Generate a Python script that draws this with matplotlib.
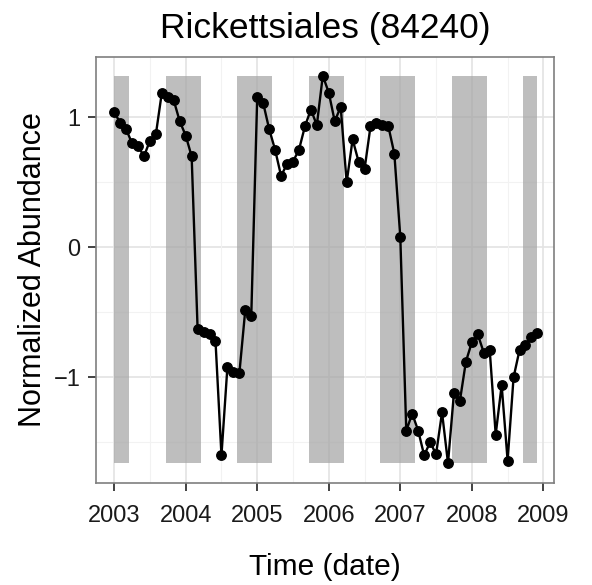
"""Rickettsiales (84240) 的归一化丰度时间序列"""

import matplotlib
matplotlib.use('Agg')
import matplotlib.pyplot as plt

plt.rcParams['font.family'] = ['Liberation Sans', 'DejaVu Sans']

# 月度数据：2003-01 到 2008-12
start_year = 2003
abundance = [
    1.04, 0.96, 0.91, 0.80, 0.78, 0.70, 0.82, 0.87, 1.19, 1.16, 1.13, 0.97,
    0.86, 0.70, -0.63, -0.65, -0.67, -0.72, -1.60, -0.92, -0.96, -0.97, -0.48, -0.53,
    1.16, 1.11, 0.91, 0.75, 0.55, 0.64, 0.66, 0.75, 0.93, 1.06, 0.94, 1.32,
    1.19, 0.97, 1.08, 0.50, 0.83, 0.66, 0.60, 0.93, 0.96, 0.94, 0.93, 0.72,
    0.08, -1.41, -1.28, -1.41, -1.60, -1.50, -1.59, -1.27, -1.66, -1.12, -1.18, -0.88,
    -0.73, -0.67, -0.81, -0.79, -1.44, -1.06, -1.64, -1.00, -0.79, -0.75, -0.69, -0.66,
]
dates = [start_year + i / 12 for i in range(len(abundance))]

# 冬季阴影区间（秋分到春分）
shade_start = [2003.0, 2003.72, 2004.72, 2005.72, 2006.72, 2007.72, 2008.72]
shade_end = [2003.21, 2004.21, 2005.21, 2006.21, 2007.21, 2008.21, dates[-1]]

year_ticks = [2003, 2004, 2005, 2006, 2007, 2008, 2009]
value_ticks = [-1, 0, 1]

fig = plt.figure(figsize=(5.92, 5.85), dpi=100)
ax = fig.add_axes([0.162, 0.175, 0.774, 0.728])

# 网格线（theme_bw 风格）
for y in [-1.5, -0.5, 0.5]:
    ax.axhline(y, color='#F2F2F2', linewidth=0.8, zorder=0)
for y in value_ticks:
    ax.axhline(y, color='#E3E3E3', linewidth=1.2, zorder=0)
for x in [2002.5 + i for i in range(7)]:
    ax.axvline(x, color='#F2F2F2', linewidth=0.8, zorder=0)
for x in year_ticks:
    ax.axvline(x, color='#E3E3E3', linewidth=1.2, zorder=0)

ymin, ymax = min(abundance), max(abundance)
for s, e in zip(shade_start, shade_end):
    ax.fill_between([s, e], ymin, ymax, color='#A8A8A8', alpha=0.75,
                    linewidth=0, zorder=1)

ax.plot(dates, abundance, color='black', linewidth=1.7, marker='o',
        markersize=6.8, zorder=3)

ax.set_xlim(2002.745, 2009.15)
ax.set_ylim(-1.81, 1.466)
ax.set_xticks(year_ticks)
ax.set_yticks(value_ticks)
ax.set_yticklabels(['\u22121', '0', '1'])

for spine in ax.spines.values():
    spine.set_color('#7F7F7F')
    spine.set_linewidth(1.2)

ax.tick_params(axis='both', which='major', labelsize=17, length=6,
               width=1.3, color='#333333', labelcolor='#1A1A1A')
ax.tick_params(axis='x', pad=10)
ax.tick_params(axis='y', pad=5)

ax.set_title("Rickettsiales (84240)", fontsize=25.5, pad=13.5)
ax.set_xlabel("Time (date)", fontsize=21.5, labelpad=19)
ax.set_ylabel("Normalized Abundance", fontsize=22, labelpad=4)

plt.savefig('out.png', dpi=100)
